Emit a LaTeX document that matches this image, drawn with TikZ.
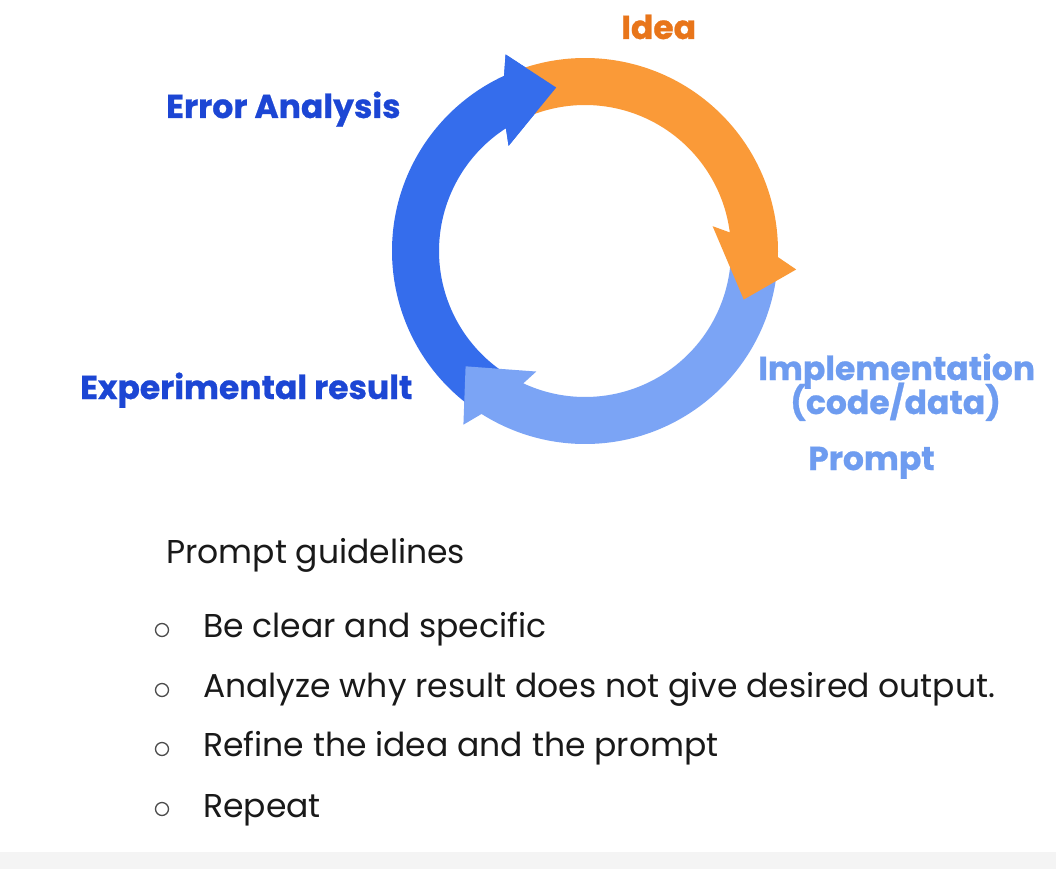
\documentclass[tikz,border=0pt]{standalone}
\usepackage{fontspec}
\setmainfont{Poppins}[BoldFeatures={FakeBold=0.7}]
\definecolor{orangeA}{HTML}{FA9A38}
\definecolor{blueA}{HTML}{356DEC}
\definecolor{lblueA}{HTML}{7BA4F5}
\definecolor{ideaC}{HTML}{E8751A}
\definecolor{darkblueC}{HTML}{1C46D4}
\definecolor{lbluetxt}{HTML}{6E9CF0}
\definecolor{bandgrey}{HTML}{F4F4F4}
\begin{document}
\begin{tikzpicture}[x=1pt,y=-1pt,
  lbl/.style={anchor=base west,inner sep=0pt,font=\fontsize{33}{39}\selectfont\bfseries},
  item/.style={anchor=base west,inner sep=0pt,font=\fontsize{33}{39}\selectfont,text=black!90},
  bullet/.style={circle,draw=black!70,line width=1.3pt,minimum size=13pt,inner sep=0pt}]
\useasboundingbox[fill=white] (0,0) rectangle (1056,869);
\fill[bandgrey] (0,852) rectangle (1056,869);
\begin{scope}[shift={(585,251)},y=1pt]
  % blue (error analysis)
  \fill[blueA] (234:193) arc[start angle=234,end angle=114.8,radius=193] -- (112:212) -- (100:166) -- (126:130) -- (122.8:146) arc[start angle=122.8,end angle=234,radius=146] -- cycle;
  % light blue (implementation)
  \fill[lblueA] (-2:193) arc[start angle=-2,end angle=-122.4,radius=193] -- (-125:212) -- (-136:166) -- (-112:130) -- (-115:146) arc[start angle=-115,end angle=-2,radius=146] -- cycle;
  % orange (idea)
  \fill[orangeA] (112:193) arc[start angle=112,end angle=-1.8,radius=193] -- (-5:212) -- (-17:166) -- (11:130) -- (7.3:146) arc[start angle=7.3,end angle=112,radius=146] -- cycle;
  % blue head on top of orange tail
  \fill[blueA] (114.8:193) -- (112:212) -- (100:166) -- (126:130) -- (122.8:146) -- cycle;
\end{scope}
\node[lbl,text=ideaC] (idea) at (621,39) {Idea};
\node[lbl,text=darkblueC] (err) at (166,118) {Error Analysis};
\node[lbl,text=darkblueC] (exp) at (80,399) {Experimental result};
\node[lbl,text=lbluetxt] (impl) at (758,380) {Implementation};
\node[lbl,text=lbluetxt] (code) at (790,414) {(code/data)};
\node[lbl,text=lbluetxt] (prompt) at (808,470) {Prompt};
\node[item] (pg) at (166,563) {Prompt guidelines};
\node[bullet] (b1) at (162,630) {};
\node[bullet] (b2) at (162,690) {};
\node[bullet] (b3) at (162,749) {};
\node[bullet] (b4) at (162,809) {};
\node[item] (t1) at (203,637) {Be clear and specific};
\node[item] (t2) at (203,697) {Analyze why result does not give desired output.};
\node[item] (t3) at (203,756) {Refine the idea and the prompt};
\node[item] (t4) at (203,817) {Repeat};
\end{tikzpicture}
\end{document}
